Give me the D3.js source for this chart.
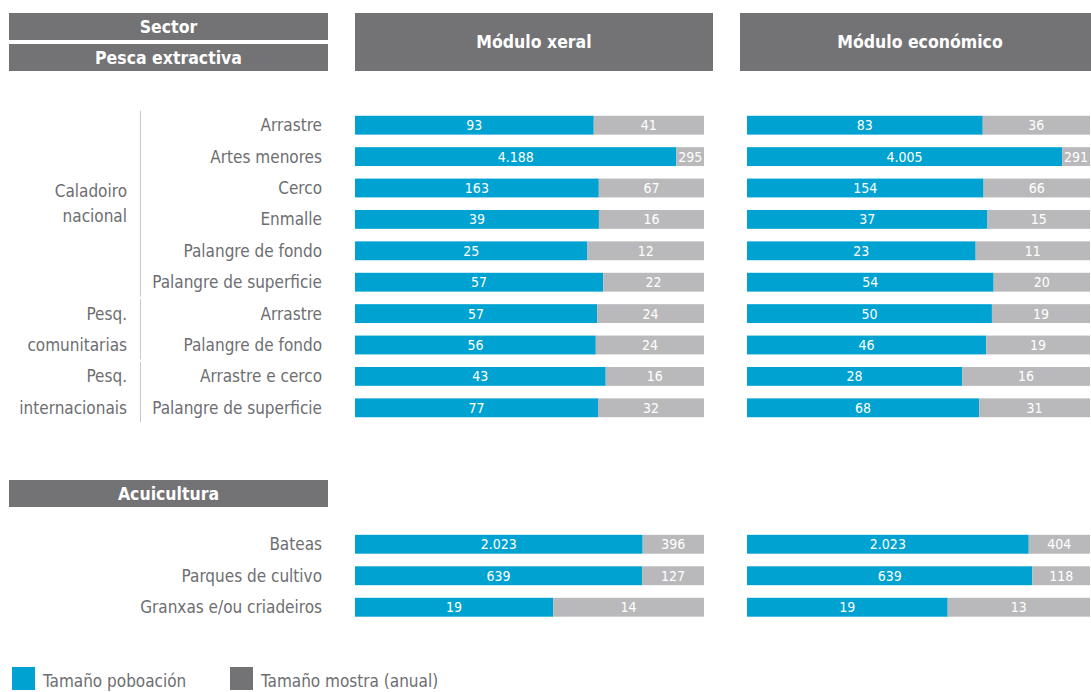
<!DOCTYPE html>
<html>
<head>
<meta charset="utf-8">
<script src="https://cdn.jsdelivr.net/npm/d3@7"></script>
<style>
  body { margin: 0; background: #fff; }
  svg { display: block; font-family: "DejaVu Sans Condensed", "DejaVu Sans", sans-serif; font-stretch: condensed; }
</style>
</head>
<body>
<script>
// data
var pescaCats = ["Arrastre", "Artes menores", "Cerco", "Enmalle", "Palangre de fondo",
                 "Palangre de superficie", "Arrastre", "Palangre de fondo",
                 "Arrastre e cerco", "Palangre de superficie"];
var xeralPob    = [93, 4188, 163, 39, 25, 57, 57, 56, 43, 77];
var xeralMostra = [41, 295, 67, 16, 12, 22, 24, 24, 16, 32];
var econPob     = [83, 4005, 154, 37, 23, 54, 50, 46, 28, 68];
var econMostra  = [36, 291, 66, 15, 11, 20, 19, 19, 16, 31];

var groupNames = [["Caladoiro", "nacional"], ["Pesq.", "comunitarias"], ["Pesq.", "internacionais"]];
var groupStart = [0, 6, 8];
var groupEnd   = [5, 7, 9];

var acuiCats        = ["Bateas", "Parques de cultivo", "Granxas e/ou criadeiros"];
var acuiXeralPob    = [2023, 639, 19];
var acuiXeralMostra = [396, 127, 14];
var acuiEconPob     = [2023, 639, 19];
var acuiEconMostra  = [404, 118, 13];

var legendLabels = ["Tamaño poboación", "Tamaño mostra (anual)"];

var width = 1091, height = 692;
var blue = "#00a2d1", lightGrey = "#b9b9bb", darkGrey = "#737274", textGrey = "#6d6e71";

var fmt = d3.formatLocale({decimal: ",", thousands: ".", grouping: [3], currency: ["", "€"]}).format(",d");

var svg = d3.select("body").append("svg")
    .attr("width", width)
    .attr("height", height);

// header boxes
function headerBox(x, y, w, h, label) {
    svg.append("rect")
        .attr("x", x).attr("y", y).attr("width", w).attr("height", h)
        .attr("fill", darkGrey);
    svg.append("text")
        .attr("x", x + w / 2).attr("y", y + h / 2)
        .attr("dy", "0.36em")
        .attr("text-anchor", "middle")
        .attr("fill", "#fff")
        .style("font-size", "17.5px")
        .style("font-weight", "bold")
        .text(label);
}
headerBox(9, 13, 319, 27, "Sector");
headerBox(9, 44, 319, 27, "Pesca extractiva");
headerBox(355, 13, 358, 58, "Módulo xeral");
headerBox(740, 13, 360, 58, "Módulo económico");
headerBox(9, 480, 319, 27, "Acuicultura");

// scales
var yPesca = d3.scaleBand()
    .domain(d3.range(pescaCats.length))
    .range([109.5, 423.5])
    .paddingInner(0.4).paddingOuter(0.2);

var yAcui = d3.scaleBand()
    .domain(d3.range(acuiCats.length))
    .range([528.5, 623])
    .paddingInner(0.4).paddingOuter(0.2);

// share scales; the grey tail of each bar runs on to the panel edge
var xXeral = d3.scaleLinear().domain([0, 1]).range([355, 699]);
var xEcon  = d3.scaleLinear().domain([0, 1]).range([747, 1085]);
var tail = 5;

var stack = d3.stack().keys(["pob", "mostra"]).offset(d3.stackOffsetExpand);

function drawBars(pob, mostra, x, y) {
    var rows = pob.map(function(d, i) { return {i: i, pob: d, mostra: mostra[i]}; });
    var series = stack(rows);
    var colors = {pob: blue, mostra: lightGrey};
    var extra = function(d) { return d[1] === 1 ? tail : 0; };

    var g = svg.append("g");
    series.forEach(function(s) {
        var layer = g.append("g");
        layer.selectAll("rect")
            .data(s)
            .enter().append("rect")
            .attr("x", function(d) { return x(d[0]); })
            .attr("width", function(d) { return x(d[1]) - x(d[0]) + extra(d); })
            .attr("y", function(d) { return y(d.data.i); })
            .attr("height", y.bandwidth())
            .attr("fill", colors[s.key]);
        layer.selectAll("text")
            .data(s)
            .enter().append("text")
            .attr("x", function(d) { return (x(d[0]) + x(d[1]) + extra(d)) / 2; })
            .attr("y", function(d) { return y(d.data.i) + y.bandwidth() / 2; })
            .attr("dy", "0.36em")
            .attr("text-anchor", "middle")
            .attr("fill", "#fff")
            .style("font-size", "14px")
            .text(function(d) { return fmt(d.data[s.key]); });
    });
}

drawBars(xeralPob, xeralMostra, xXeral, yPesca);
drawBars(econPob, econMostra, xEcon, yPesca);
drawBars(acuiXeralPob, acuiXeralMostra, xXeral, yAcui);
drawBars(acuiEconPob, acuiEconMostra, xEcon, yAcui);

// category labels
function catLabels(cats, y) {
    svg.append("g").selectAll("text")
        .data(cats)
        .enter().append("text")
        .attr("x", 322)
        .attr("y", function(d, i) { return y(i) + y.bandwidth() / 2; })
        .attr("dy", "0.35em")
        .attr("text-anchor", "end")
        .attr("fill", textGrey)
        .style("font-size", "17px")
        .text(function(d) { return d; });
}
catLabels(pescaCats, yPesca);
catLabels(acuiCats, yAcui);

// group labels and separator lines
groupNames.forEach(function(name, gi) {
    var top = yPesca(groupStart[gi]) - 5,
        bottom = yPesca(groupEnd[gi]) + yPesca.bandwidth() + 5,
        mid = (top + bottom) / 2;
    svg.append("line")
        .attr("x1", 140.5).attr("x2", 140.5)
        .attr("y1", top).attr("y2", bottom)
        .attr("stroke", "#c8c8c8")
        .attr("stroke-width", 1);
    var lineGap = gi === 0 ? 25 : 31.4;
    svg.append("g").selectAll("text")
        .data(name)
        .enter().append("text")
        .attr("x", 127)
        .attr("y", function(d, i) { return mid + (i - 0.5) * lineGap; })
        .attr("dy", "0.35em")
        .attr("text-anchor", "end")
        .attr("fill", textGrey)
        .style("font-size", "17px")
        .text(function(d) { return d; });
});

// legend
var legend = svg.append("g").attr("transform", "translate(0,667)");
[blue, darkGrey].forEach(function(c, i) {
    var lx = i === 0 ? 12 : 230;
    legend.append("rect")
        .attr("x", lx).attr("y", 0).attr("width", 23).attr("height", 23)
        .attr("fill", c);
    legend.append("text")
        .attr("x", lx + 31).attr("y", 20)
        .attr("fill", textGrey)
        .style("font-size", "17px")
        .text(legendLabels[i]);
});
</script>
</body>
</html>
